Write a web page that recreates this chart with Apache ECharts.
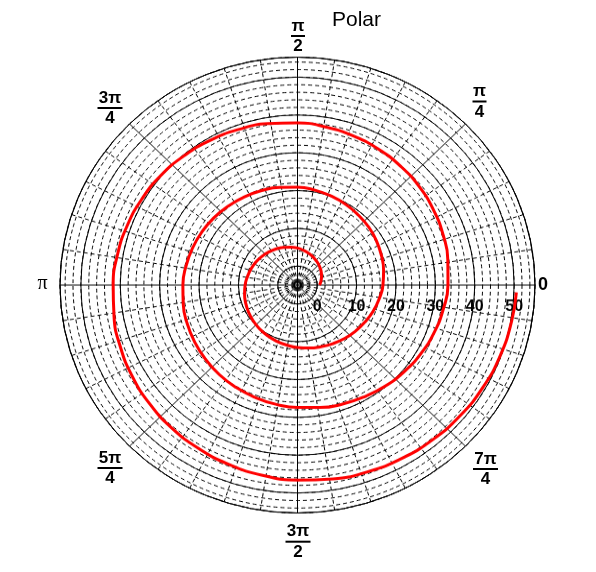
<!DOCTYPE html>
<html><head><meta charset="utf-8">
<script src="https://cdn.jsdelivr.net/npm/echarts@6/dist/echarts.min.js"></script>
<style>
html,body{margin:0;padding:0;background:#fff;overflow:hidden;}
#wrap{position:relative;width:596px;height:572px;}
#plot{position:absolute;left:0;top:0;width:596px;height:596px;transform-origin:0 0;transform:scaleY(0.959732);}
#text{position:absolute;left:0;top:0;width:596px;height:572px;pointer-events:none;}
</style></head><body>
<div id="wrap"><div id="plot"></div><div id="text"></div></div>
<script>
// ---- data (angle in degrees, radius in axis units) ----
const THETA_DEG = [0,10,20,30,40,50,60,70,80,90,100,110,120,130,140,150,160,170,180,
  190,200,210,220,230,240,250,260,270,280,290,300,310,320,330,340,350,360,
  370,380,390,400,410,420,430,440,450,460,470,480,490,500,510,520,530,540,
  550,560,570,580,590,600,610,620,630,640,650,660,670,680,690,700,710,720,
  730,740,750,760,770,780,790,800,810,820,830,840,850,860,870,880,890,900,
  910,920,930,940,950,960,970,980,990,1000,1010,1020,1030,1040,1050,1060,1070,1078];
const R_VALUES = [0.6,1.05,1.5,1.95,2.4,2.85,3.3,3.8,4.3,4.8,5.2,5.6,6.0,6.4,6.8,7.2,7.55,7.9,8.3,
  8.65,9.0,9.35,9.7,10.05,10.4,10.75,11.1,11.5,11.9,12.35,12.9,13.5,14.1,14.7,15.4,16.05,16.7,
  17.2,17.7,18.2,18.7,19.1,19.6,20.05,20.5,20.9,21.25,21.6,21.95,22.3,22.7,23.05,23.4,23.75,24.1,
  24.45,24.8,25.15,25.5,25.9,26.25,26.6,27.0,27.4,27.9,28.5,29.1,29.8,30.5,31.2,31.9,32.55,33.2,
  33.75,34.3,34.85,35.4,35.9,36.4,36.9,37.4,37.9,38.35,38.8,39.25,39.7,40.2,40.6,41.0,41.4,41.8,
  42.3,42.85,43.4,43.95,44.5,45.0,45.55,46.1,46.6,47.05,47.5,47.95,48.4,48.85,49.3,49.75,50.2,50.6];
const RADIAL_TICKS = [0,10,20,30,40,50];
const ANGLE_TICKS = [0,45,90,135,180,225,270,315];
const ANGLE_NUM = ['0','π','π','3π','π','5π','3π','7π'];
const ANGLE_DEN = ['','4','2','4','','4','2','4'];
const TITLE = 'Polar';

// ---- layout ----
const R_MIN = -5, R_MAX = 55.3, OUTER = 237.5;
const CENTER = [297.5, 297];
const innerAt = v => OUTER * (v - R_MIN) / (R_MAX - R_MIN);
const FONT = '"Liberation Sans", Arial, Helvetica, sans-serif';

const plot = echarts.init(document.getElementById('plot'), null, {renderer: 'canvas'});
const hiddenAngle = {type: 'value', min: 0, max: 360, startAngle: 0, clockwise: false, show: false};
plot.setOption({
  animation: false,
  backgroundColor: 'transparent',
  polar: [
    {center: CENTER, radius: [0, OUTER]},
    {center: CENTER, radius: [innerAt(-4), OUTER]},
    {center: CENTER, radius: [innerAt(0), OUTER]}
  ],
  angleAxis: [
    {polarIndex: 0, type: 'value', min: 0, max: 360, interval: 45, startAngle: 0, clockwise: false,
     axisLine: {show: true, lineStyle: {color: '#000', width: 1}},
     axisTick: {show: false}, axisLabel: {show: false},
     splitLine: {show: true, lineStyle: {color: '#000', width: 1}},
     minorTick: {show: false, splitNumber: 5},
     minorSplitLine: {show: true, lineStyle: {color: '#000', width: 1, type: [4, 3]}}},
    Object.assign({polarIndex: 1}, hiddenAngle),
    Object.assign({polarIndex: 2}, hiddenAngle)
  ],
  radiusAxis: [
    {polarIndex: 0, type: 'value', min: R_MIN, max: R_MAX,
     axisLine: {show: false}, axisTick: {show: false}, axisLabel: {show: false}, splitLine: {show: false}},
    {polarIndex: 1, type: 'value', min: -4, max: R_MAX, interval: 2,
     axisLine: {show: false}, axisTick: {show: false}, axisLabel: {show: false},
     splitLine: {show: true, lineStyle: {color: '#000', width: 1, type: [4, 3]}}},
    {polarIndex: 2, type: 'value', min: 0, max: R_MAX, interval: 10,
     axisLine: {show: false}, axisTick: {show: false},
     splitLine: {show: true, lineStyle: {color: '#000', width: 1}},
     axisLabel: {show: true, margin: -15, verticalAlign: 'top', align: 'center',
       color: '#000', fontSize: 16, fontWeight: 'bold', fontFamily: FONT,
       formatter: v => RADIAL_TICKS.indexOf(v) >= 0 ? String(v) : ''}}
  ],
  series: [{
    type: 'line', coordinateSystem: 'polar', polarIndex: 0,
    data: THETA_DEG.map((t, i) => [R_VALUES[i], t]),
    smooth: true, symbol: 'none', clip: false,
    lineStyle: {color: '#ff0000', width: 3}, z: 10
  }]
});

// ---- unscaled text overlay: title and angular labels ----
const LABEL_POS = [[543,285],[479.5,101.5],[298,36],[110,108],[42.5,284],[110,468],[298,541.7],[485.5,469]];
const txt = echarts.init(document.getElementById('text'));
const graphics = [];
ANGLE_TICKS.forEach((a, i) => {
  const [cx, cy] = LABEL_POS[i];
  if (!ANGLE_DEN[i]) {
    const isPi = ANGLE_NUM[i] === 'π';
    graphics.push({type: 'text', x: cx, y: cy, style: {text: ANGLE_NUM[i], fill: '#000',
      font: isPi ? '20px "Liberation Serif", "DejaVu Serif", serif' : 'bold 18px ' + FONT,
      align: 'center', verticalAlign: 'middle'}});
  } else {
    const w = ANGLE_NUM[i].length > 1 ? 25 : 14;
    graphics.push({type: 'text', x: cx, y: cy - 10, style: {text: ANGLE_NUM[i], fill: '#000',
      font: 'bold 17px ' + FONT, align: 'center', verticalAlign: 'middle'}});
    graphics.push({type: 'rect', shape: {x: cx - w / 2, y: cy - 1, width: w, height: 2}, style: {fill: '#000'}});
    graphics.push({type: 'text', x: cx, y: cy + 10.5, style: {text: ANGLE_DEN[i], fill: '#000',
      font: 'bold 17px ' + FONT, align: 'center', verticalAlign: 'middle'}});
  }
});
graphics.push({type: 'text', x: 332, y: 20, style: {text: TITLE, fill: '#000',
  font: '21px ' + FONT, align: 'left', verticalAlign: 'middle'}});
txt.setOption({animation: false, backgroundColor: 'transparent', graphic: graphics});
</script>
</body></html>
